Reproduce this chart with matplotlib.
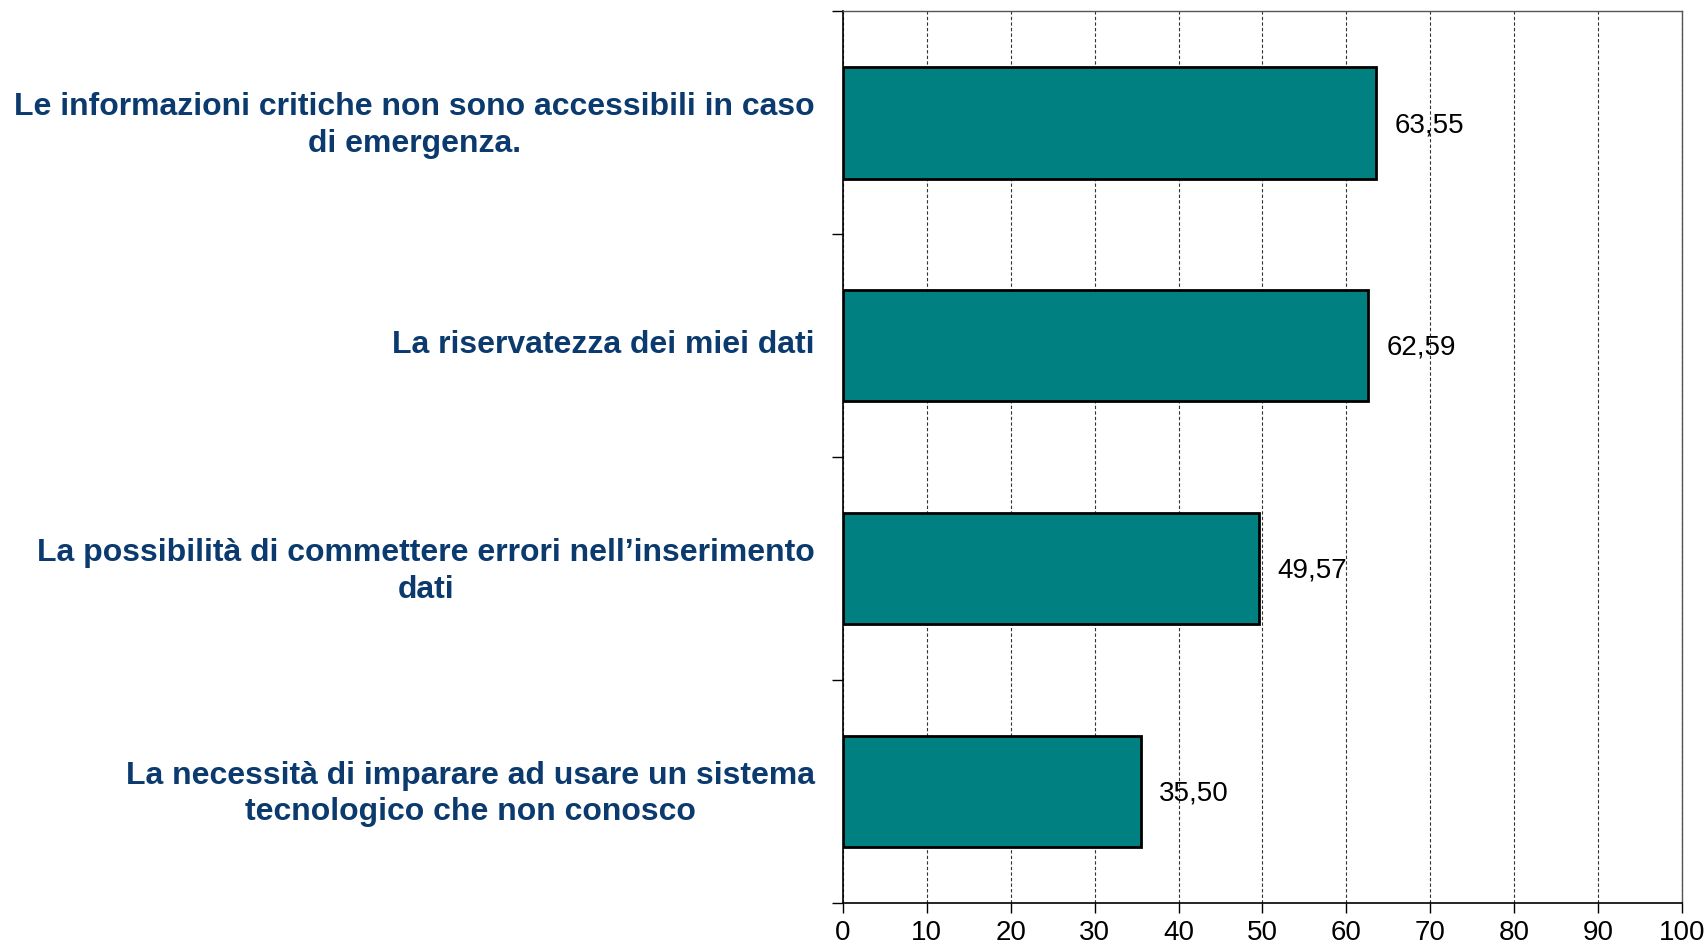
import matplotlib.pyplot as plt
from matplotlib.transforms import ScaledTranslation
import numpy as np

categories = [
    'Le informazioni critiche non sono accessibili in caso\ndi emergenza.',
    'La riservatezza dei miei dati',
    'La possibilità di commettere errori nell\u2019inserimento\ndati',
    'La necessità di imparare ad usare un sistema\ntecnologico che non conosco',
]
values = [63.55, 62.59, 49.57, 35.50]
xticks = [0, 10, 20, 30, 40, 50, 60, 70, 80, 90, 100]


def main():
    plt.rcParams['font.family'] = ['Liberation Sans', 'DejaVu Sans']

    fig = plt.figure(figsize=(17.06, 9.47), dpi=100)
    ax = fig.add_axes([0.494, 0.0465, 0.492, 0.9415])

    pos = np.arange(len(categories))
    ax.barh(pos, values, height=0.5, color='#008080', edgecolor='black',
            linewidth=2, zorder=3)

    for p, v in zip(pos, values):
        ax.text(v + 2.2, p + 0.01, ('%.2f' % v).replace('.', ','), va='center',
                ha='left', fontsize=20, color='black', zorder=4)

    ax.set_xlim(0, 100)
    ax.set_ylim(len(categories) - 0.5, -0.5)
    ax.set_xticks(xticks)
    ax.tick_params(axis='x', labelsize=20, length=7, width=1, pad=5)

    ax.set_yticks(pos)
    ax.set_yticklabels(categories, fontsize=23, fontweight='bold',
                       color='#0B3A6E', multialignment='center', linespacing=1.3)
    ax.tick_params(axis='y', which='major', length=0, pad=20)
    ax.set_yticks(np.arange(-0.5, len(categories), 1.0), minor=True)
    ax.tick_params(axis='y', which='minor', length=8, width=1, direction='out')

    # nudge the category labels up a little
    shift = ScaledTranslation(0, 0.045, fig.dpi_scale_trans)
    for lab in ax.get_yticklabels():
        lab.set_transform(lab.get_transform() + shift)

    ax.grid(axis='x', linestyle=(0, (3, 2)), color='#333333', linewidth=0.8, zorder=0)
    for side in ['top', 'right']:
        ax.spines[side].set_color('#555555')
        ax.spines[side].set_linewidth(1)
    ax.spines['left'].set_linewidth(1.2)
    ax.spines['bottom'].set_linewidth(1.2)

    fig.savefig('out.png', dpi=100, facecolor='white')


if __name__ == '__main__':
    main()
